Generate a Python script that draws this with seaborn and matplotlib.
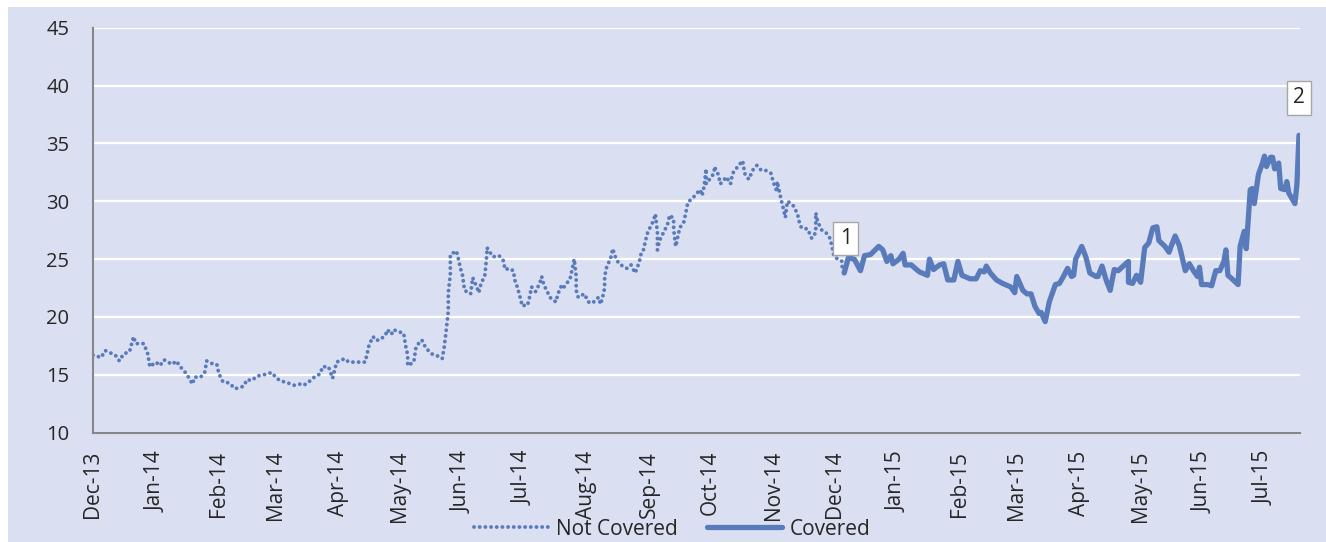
import pandas as pd
import matplotlib
matplotlib.use('Agg')
import matplotlib.pyplot as plt
import matplotlib.dates as mdates
from matplotlib.patches import Rectangle
import seaborn as sns

# days counted from 1 Dec 2013
start = pd.Timestamp('2013-12-01')

not_covered_days = [0, 4, 6, 11, 13, 15, 18, 20, 21, 25, 27, 28, 31, 33, 35, 39, 41, 43, 46, 49,
                    50, 53, 55, 56, 58, 61, 62, 64, 67, 70, 74, 76, 78, 81, 84, 88, 90, 92, 96, 99,
                    102, 103, 105, 109, 112, 113, 116, 118, 119, 120, 124, 126, 131, 134, 135, 136, 138, 139, 141, 144,
                    145, 147, 148, 151, 153, 154, 155, 155, 158, 159, 161, 162, 164, 167, 169, 172, 173, 174, 175, 175,
                    176, 176, 179, 180, 181, 182, 183, 186, 187, 189, 190, 191, 193, 194, 194, 197, 200, 202, 203, 205,
                    207, 208, 209, 211, 211, 214, 215, 216, 218, 220, 221, 222, 224, 225, 228, 229, 231, 232, 235, 236,
                    237, 238, 238, 239, 242, 244, 246, 249, 250, 251, 252, 252, 253, 255, 256, 257, 259, 263, 265, 267,
                    269, 270, 271, 272, 273, 274, 276, 277, 278, 278, 279, 281, 283, 284, 286, 286, 287, 288, 289, 291,
                    292, 293, 296, 299, 300, 301, 302, 302, 305, 306, 306, 308, 309, 312, 314, 315, 318, 320, 321, 323,
                    325, 327, 329, 331, 334, 335, 336, 337, 337, 339, 340, 341, 342, 343, 345, 347, 348, 349, 352, 354,
                    356, 356, 357, 359, 361, 363, 364, 365, 369, 369, 370]
not_covered_vals = [16.7, 16.5, 17.1, 16.7, 16.2, 16.8, 17.0, 18.3, 17.7, 17.7, 16.8, 15.7, 16.1, 15.8, 16.3, 15.9, 16.2, 15.7, 15.1, 14.2,
                    14.8, 14.8, 15.2, 16.2, 16.0, 15.9, 15.1, 14.4, 14.3, 13.8, 14.0, 14.6, 14.5, 14.9, 15.0, 15.2, 14.8, 14.5, 14.3, 14.1,
                    14.2, 14.1, 14.2, 14.8, 15.1, 15.7, 15.7, 14.7, 15.4, 16.1, 16.4, 16.1, 16.1, 16.1, 16.8, 17.6, 18.3, 18.0, 18.0, 18.4,
                    18.9, 18.5, 18.9, 18.7, 18.6, 17.5, 16.7, 15.8, 16.1, 17.3, 17.9, 18.0, 17.3, 16.8, 16.7, 16.4, 17.4, 18.9, 20.5, 22.1,
                    23.7, 25.4, 25.7, 25.0, 24.2, 23.6, 22.3, 22.0, 23.4, 22.6, 22.1, 22.8, 23.6, 25.4, 26.0, 25.2, 25.3, 24.9, 24.1, 24.2,
                    24.0, 23.0, 22.6, 21.3, 21.0, 21.0, 21.7, 22.6, 22.2, 22.9, 23.5, 22.8, 22.1, 21.7, 21.3, 22.0, 22.8, 22.6, 23.3, 24.1,
                    25.0, 23.5, 22.3, 21.7, 22.0, 21.3, 21.2, 21.7, 21.1, 21.7, 22.5, 23.5, 24.3, 25.1, 25.9, 25.3, 24.6, 24.2, 24.5, 23.8,
                    24.7, 25.5, 25.7, 26.5, 27.2, 27.6, 28.3, 28.9, 27.3, 25.8, 26.6, 27.3, 28.0, 28.8, 28.5, 27.6, 26.1, 26.9, 27.7, 28.2,
                    29.0, 29.9, 30.4, 31.0, 30.5, 31.3, 32.8, 31.5, 32.2, 32.5, 33.0, 32.3, 31.5, 32.1, 31.5, 32.4, 33.1, 33.5, 32.4, 31.9,
                    32.7, 33.1, 32.7, 32.7, 32.4, 31.7, 31.2, 30.8, 31.7, 30.1, 29.4, 28.6, 30.0, 29.9, 29.6, 28.9, 28.1, 27.7, 27.6, 26.8,
                    27.3, 29.0, 28.2, 27.5, 27.3, 26.8, 26.1, 25.2, 24.8, 24.1, 23.8]

covered_days = [370, 372, 375, 378, 380, 383, 387, 389, 391, 393, 394, 397, 399, 400, 403, 407, 411, 412, 414, 417,
                419, 421, 424, 426, 428, 432, 435, 437, 439, 440, 442, 445, 448, 452, 454, 455, 458, 460, 462, 464,
                466, 467, 469, 471, 474, 476, 478, 480, 482, 483, 484, 487, 489, 491, 494, 495, 497, 499, 501, 503,
                505, 508, 510, 510, 512, 514, 516, 518, 520, 522, 524, 525, 528, 530, 531, 533, 535, 536, 538, 540,
                542, 544, 545, 546, 549, 551, 553, 555, 557, 558, 559, 561, 564, 565, 567, 568, 569, 570, 571, 572,
                574, 576, 577, 578, 580, 581, 582, 584, 585, 587, 588, 589, 592, 593, 594]
covered_vals = [23.8, 25.1, 25.0, 24.0, 25.3, 25.4, 26.1, 25.8, 24.8, 25.3, 24.6, 25.0, 25.5, 24.5, 24.5, 23.9, 23.6, 25.0, 24.1, 24.5,
                24.6, 23.2, 23.2, 24.8, 23.6, 23.3, 23.3, 24.0, 23.9, 24.4, 23.8, 23.2, 22.9, 22.6, 22.1, 23.5, 22.3, 22.0, 22.0, 20.9,
                20.3, 20.4, 19.6, 21.3, 22.8, 22.9, 23.5, 24.2, 23.5, 23.6, 25.0, 26.1, 25.2, 23.8, 23.5, 23.5, 24.4, 23.2, 22.3, 24.1,
                24.0, 24.5, 24.8, 23.0, 22.9, 23.6, 23.0, 26.0, 26.4, 27.7, 27.8, 26.6, 26.1, 25.6, 26.1, 27.0, 26.2, 25.5, 24.0, 24.6,
                24.0, 23.5, 24.3, 22.8, 22.8, 22.7, 24.0, 24.0, 24.8, 25.8, 23.6, 23.3, 22.8, 26.1, 27.4, 25.9, 28.4, 31.0, 31.1, 29.8,
                32.3, 33.3, 33.9, 33.0, 33.8, 33.8, 32.8, 33.3, 31.1, 31.0, 31.7, 30.7, 29.8, 31.5, 35.7]

y_ticks = [10, 15, 20, 25, 30, 35, 40, 45]

line_color = '#5a7bbb'
bg_color = '#dae0f1'

nc = pd.DataFrame({'date': start + pd.to_timedelta(not_covered_days, unit='D'), 'value': not_covered_vals})
cv = pd.DataFrame({'date': start + pd.to_timedelta(covered_days, unit='D'), 'value': covered_vals})

sns.set_style('white')
plt.rcParams['font.family'] = ['Open Sans', 'DejaVu Sans']

fig = plt.figure(figsize=(13.26, 5.42), dpi=100, facecolor='white')
fig.patches.append(Rectangle((8 / 1326, 0), 1, 1 - 7 / 542, transform=fig.transFigure,
                             facecolor=bg_color, edgecolor='none', zorder=-1))
ax = fig.add_axes([93 / 1326, 1 - 432.7 / 542, (1300 - 93) / 1326, (432.7 - 27.7) / 542])
ax.set_facecolor(bg_color)

sns.lineplot(data=nc, x='date', y='value', ax=ax, estimator=None, sort=False, color=line_color,
             linewidth=2.8, linestyle=(0, (0.01, 1.45)), dash_capstyle='round', label='Not Covered')
sns.lineplot(data=cv, x='date', y='value', ax=ax, estimator=None, sort=False, color=line_color,
             linewidth=3.8, solid_joinstyle='round', label='Covered')

ax.set_ylim(10, 45)
ax.set_yticks(y_ticks)
ax.set_xlim(start, start + pd.Timedelta(days=594.5))
ax.xaxis.set_major_locator(mdates.MonthLocator())
ax.xaxis.set_major_formatter(mdates.DateFormatter('%b-%y'))
ax.grid(axis='y', color='white', linewidth=1.6)
ax.set_axisbelow(True)
for s in ['top', 'right']:
    ax.spines[s].set_visible(False)
for s in ['left', 'bottom']:
    ax.spines[s].set_color('#878787')
    ax.spines[s].set_linewidth(1.5)
ax.tick_params(axis='both', direction='out', length=5, width=1.3, color='#878787')
ax.tick_params(axis='x', rotation=90, pad=8, labelsize=15)
ax.tick_params(axis='y', pad=12, labelsize=14.5)
ax.set_xlabel('')
ax.set_ylabel('')

# numbered markers at the start and end of the covered series
box = dict(boxstyle='square,pad=0.3', facecolor='white', edgecolor='#a6a6a6', linewidth=1)
ax.annotate('1', xy=(cv['date'].iloc[0], cv['value'].iloc[0]), xytext=(1, 25), textcoords='offset points',
            ha='center', va='center', fontsize=15, bbox=box)
ax.annotate('2', xy=(cv['date'].iloc[-1], cv['value'].iloc[-1]), xytext=(0, 27), textcoords='offset points',
            ha='center', va='center', fontsize=15, bbox=box)

ax.legend_.remove()
handles, labels = ax.get_legend_handles_labels()
fig.legend(handles, labels, loc='lower center', bbox_to_anchor=(0.507, -0.03), ncol=2, frameon=False,
           fontsize=15, handlelength=3.6, handletextpad=0.35, columnspacing=1.4)

fig.savefig('out.png', dpi=100, facecolor=fig.get_facecolor())
